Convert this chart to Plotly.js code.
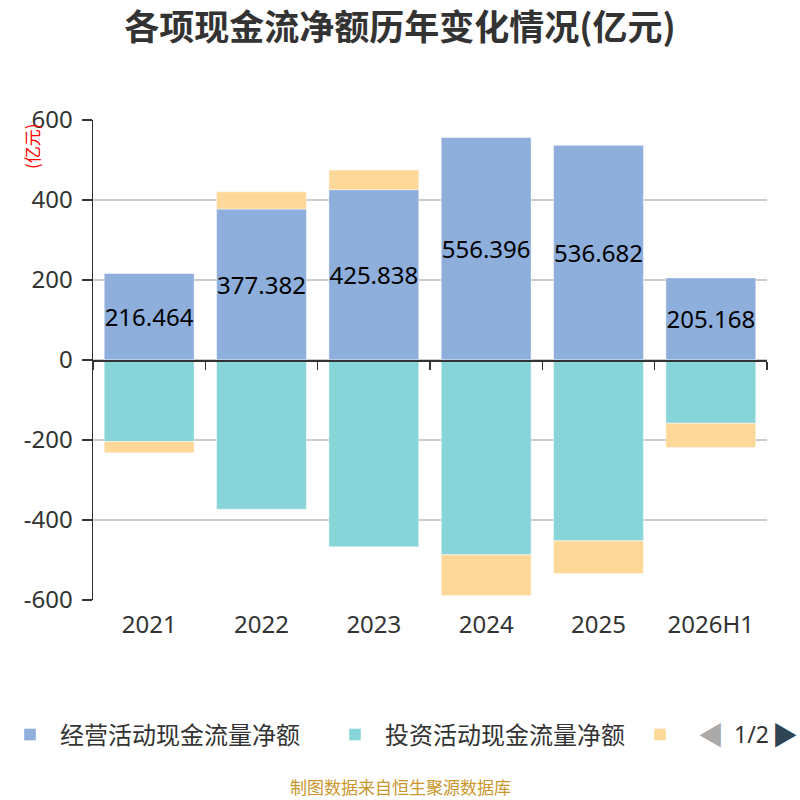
<!DOCTYPE html>
<html><head><meta charset="utf-8">
<script src="https://cdn.plot.ly/plotly-3.0.1.min.js"></script>
<style>html,body{margin:0;padding:0;background:#fff}#chart{width:800px;height:800px}</style>
</head><body><div id="chart"></div>
<script>
const years = ['2021','2022','2023','2024','2025','2026H1'];
const seriesNames = ['经营活动现金流量净额','投资活动现金流量净额','筹资活动现金流量净额'];
const operating = [216.464, 377.382, 425.838, 556.396, 536.682, 205.168];
const investing = [-204, -373, -467, -487, -452, -158];
const financing = [-28, 43, 49, -102, -82, -61];
const yTickVals = [600, 400, 200, 0, -200, -400, -600];
const yTickText = ['600', '400', '200', '0', '-200', '-400', '-600'];
const colors = ['#8eaedb', '#87d5d8', '#fed899'];

const FONT = '"Noto Sans", "Noto Sans CJK SC", sans-serif';
const CJK = '"Noto Sans CJK SC", "Noto Sans", sans-serif';
const edge = {width:1, color:'rgba(255,255,255,0.45)'};

const traces = [
  {type:'bar', x: years, y: operating, width:0.8, name: seriesNames[0],
    marker:{color: colors[0], line: edge},
    text: operating.map(v => v.toFixed(3)), textposition:'inside', insidetextanchor:'middle',
    textangle:0, constraintext:'none', textfont:{size:24, color:'#000', family:FONT},
    hovertemplate:'%{x}<br>' + seriesNames[0] + ': %{y}<extra></extra>'},
  {type:'bar', x: years, y: investing, width:0.8, name: seriesNames[1],
    marker:{color: colors[1], line: edge}, textposition:'none',
    hovertemplate:'%{x}<br>' + seriesNames[1] + ': %{y}<extra></extra>'},
  // third series: the reference's paged legend shows only its swatch, so its legend label is left blank
  {type:'bar', x: years, y: financing, width:0.8, name: '', legend:'legend2',
    marker:{color: colors[2], line: edge}, textposition:'none',
    hovertemplate:'%{x}<br>' + seriesNames[2] + ': %{y}<extra></extra>'},
  // empty helper trace so the zero-position category axis (with boundary ticks) is drawn
  {type:'scatter', x: [], y: [], xaxis:'x2', yaxis:'y', showlegend:false, hoverinfo:'skip'}
];

const W = 800, H = 800, L = 93, R = 33, T = 120, B = 200;
const px = x => (x - L) / (W - L - R);
const py = y => (H - B - y) / (H - T - B);

const layout = {
  width: W, height: H,
  margin:{l:L, r:R, t:T, b:B, pad:0, autoexpand:false},
  paper_bgcolor:'#fff', plot_bgcolor:'#fff',
  barmode:'relative', bargap:0.2,
  font:{family:FONT, color:'#333'},
  title:{text:'各项现金流净额历年变化情况(亿元)', font:{family:CJK, size:35, color:'#333', weight:'bold'},
    x:0.5, xanchor:'center', y:1 - 28/H, yanchor:'middle'},
  xaxis:{type:'category', categoryarray: years, range:[-0.5, 5.5], showline:false, ticks:'',
    showgrid:false, zeroline:false, ticklabelstandoff:8,
    tickfont:{size:24, color:'#333', family:FONT}, fixedrange:true},
  xaxis2:{type:'category', categoryarray: years, range:[-0.5, 5.5], overlaying:'x', anchor:'free',
    position:0.5, showline:true, linecolor:'#333', linewidth:1.5, ticks:'outside', tickson:'boundaries',
    ticklen:8, tickwidth:1.5, tickcolor:'#333', showticklabels:false, showgrid:false, zeroline:false,
    fixedrange:true},
  yaxis:{range:[-600, 600], tickvals: yTickVals, ticktext: yTickText, showline:true, linecolor:'#333',
    linewidth:1.5, ticks:'outside', ticklen:10, tickwidth:1.5, tickcolor:'#333', showgrid:true,
    gridcolor:'#cccccc', gridwidth:1.5, zeroline:false,
    ticklabelstandoff:4, tickfont:{size:24, color:'#333', family:FONT}, fixedrange:true},
  showlegend:true,
  legend:{orientation:'h', xref:'container', yref:'container', x:0, xanchor:'left',
    y:1 - 735/H, yanchor:'middle', entrywidth:260, entrywidthmode:'pixels',
    font:{family:CJK, size:24, color:'#333'}, itemwidth:50, bgcolor:'rgba(0,0,0,0)', traceorder:'normal'},
  legend2:{orientation:'h', xref:'container', yref:'container', x:640/W, xanchor:'left',
    y:1 - 735/H, yanchor:'middle', font:{family:CJK, size:24, color:'#333'}, itemwidth:30,
    bgcolor:'rgba(0,0,0,0)'},
  annotations:[
    {text:'(亿元)', xref:'paper', yref:'paper', x:px(31), y:py(146), textangle:-90, showarrow:false,
      font:{family:CJK, size:17, color:'#ff0000'}, xanchor:'center', yanchor:'middle'},
    {text:'◀', xref:'paper', yref:'paper', x:px(711), y:py(735), showarrow:false,
      font:{size:26, color:'#aaaaaa'}, xanchor:'center', yanchor:'middle'},
    {text:'1/2', xref:'paper', yref:'paper', x:px(751), y:py(734), showarrow:false,
      font:{family:FONT, size:23, color:'#333'}, xanchor:'center', yanchor:'middle'},
    {text:'▶', xref:'paper', yref:'paper', x:px(785), y:py(735), showarrow:false,
      font:{size:26, color:'#2f4554'}, xanchor:'center', yanchor:'middle'},
    {text:'制图数据来自恒生聚源数据库', xref:'paper', yref:'paper', x:px(400), y:py(786), showarrow:false,
      font:{family:CJK, size:17, color:'#c9962c'}, xanchor:'center', yanchor:'middle'}
  ]
};

Plotly.newPlot('chart', traces, layout, {displayModeBar:false, staticPlot:true});
</script></body></html>
